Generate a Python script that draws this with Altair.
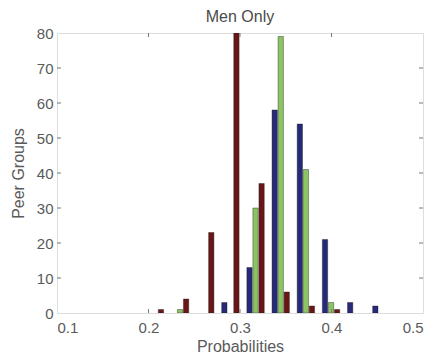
import altair as alt
import pandas as pd

# bin centres (group centres) and counts per series
centers = [0.207, 0.2345, 0.262, 0.2895, 0.317, 0.3445, 0.372, 0.3995, 0.427, 0.4545]
blue = [0, 0, 0, 3, 13, 58, 54, 21, 3, 2]
green = [0, 1, 0, 0, 30, 79, 41, 3, 0, 0]
red = [1, 4, 23, 80, 37, 6, 2, 1, 0, 0]
series_names = ["Series 1", "Series 2", "Series 3"]
series_colors = ["#262a78", "#8cc464", "#6b1616"]
x_ticks = [0.1, 0.2, 0.3, 0.4, 0.5]
y_ticks = [0, 10, 20, 30, 40, 50, 60, 70, 80]

rows = []
for si, vals in enumerate([blue, green, red]):
    for c, v in zip(centers, vals):
        if v > 0:
            rows.append({"center": c, "idx": si, "series": series_names[si], "count": v})
df = pd.DataFrame(rows)

W, H = 366, 280
OFF = 0.0066
BW = 0.0058
TXT = "#5a5a5a"
FONT = "Liberation Sans"

xscale = alt.Scale(domain=[0.1, 0.5], nice=False, zero=False)
yscale = alt.Scale(domain=[0, 80], nice=False)
xaxis = alt.Axis(values=x_ticks, format=".1f", ticks=False, domain=False, grid=False,
                 labelFontSize=15, labelColor=TXT, labelPadding=7, labelOverlap=False,
                 titleFontSize=16, titleColor=TXT, titleFontWeight="normal",
                 titlePadding=3, labelFont=FONT, titleFont=FONT)
yaxis = alt.Axis(values=y_ticks, ticks=False, domain=False, grid=False,
                 labelFontSize=15, labelColor=TXT, labelPadding=4, labelOverlap=False,
                 titleFontSize=16, titleColor=TXT, titleFontWeight="normal",
                 titlePadding=10, labelFont=FONT, titleFont=FONT)
XT, YT = "Probabilities", "Peer Groups"

bars = alt.Chart(df).transform_calculate(
    x0=f"datum.center + (datum.idx - 1) * {OFF} - {BW/2}",
    x1=f"datum.center + (datum.idx - 1) * {OFF} + {BW/2}",
).mark_bar(clip=True, stroke="#1a1a1a", strokeWidth=0.4).encode(
    x=alt.X("x0:Q", scale=xscale, title=XT, axis=xaxis),
    x2="x1:Q",
    y=alt.Y("count:Q", scale=yscale, title=YT, axis=yaxis),
    y2=alt.datum(0),
    color=alt.Color("series:N", scale=alt.Scale(domain=series_names, range=series_colors), legend=None),
)

ydf = pd.DataFrame({"v": y_ticks[1:-1]})
xdf = pd.DataFrame({"v": x_ticks[1:-1]})
tick_col = "#777"
lt = alt.Chart(ydf).mark_rule(color=tick_col, strokeWidth=1).encode(
    y=alt.Y("v:Q", scale=yscale, title=YT, axis=yaxis), x=alt.value(0), x2=alt.value(4))
rt = alt.Chart(ydf).mark_rule(color=tick_col, strokeWidth=1).encode(
    y=alt.Y("v:Q", scale=yscale, title=YT, axis=yaxis), x=alt.value(W - 4), x2=alt.value(W))
tt = alt.Chart(xdf).mark_rule(color=tick_col, strokeWidth=1).encode(
    x=alt.X("v:Q", scale=xscale, title=XT, axis=xaxis), y=alt.value(0), y2=alt.value(4))
bt = alt.Chart(xdf).mark_rule(color=tick_col, strokeWidth=1).encode(
    x=alt.X("v:Q", scale=xscale, title=XT, axis=xaxis), y=alt.value(H - 4), y2=alt.value(H))

chart = alt.layer(bars, lt, rt, tt, bt).properties(
    width=W, height=H,
    title=alt.Title("Men Only", fontSize=16, fontWeight="normal", color="#4a4a4a",
                    font=FONT, anchor="middle", offset=1),
    autosize=alt.AutoSizeParams(type="none"),
    padding={"left": 49, "top": 25, "right": 13, "bottom": 48},
).configure_view(stroke="#777", strokeWidth=1.2).configure(background="white")

chart.save("out.html", embed_options={"renderer": "svg", "actions": False})
